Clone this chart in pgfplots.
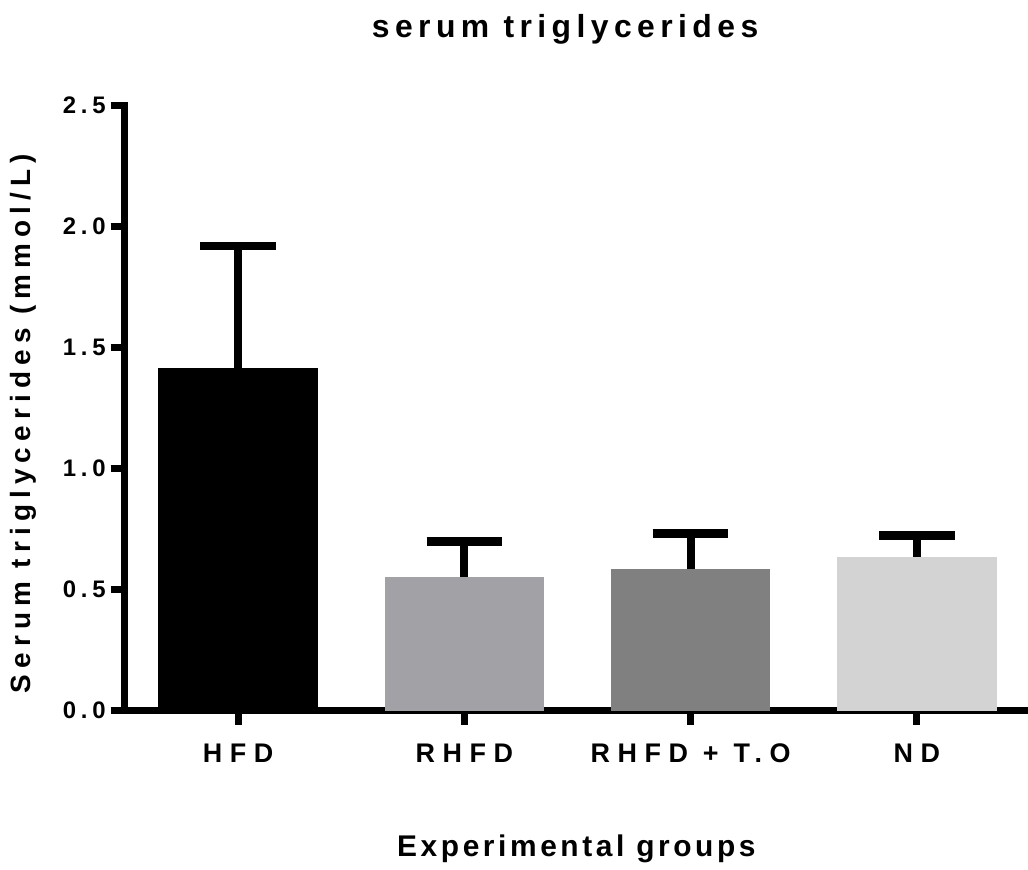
\documentclass[border=0pt]{standalone}
\usepackage{fontspec}
\setmainfont{Liberation Sans}
\newfontfamily\tickfont{Liberation Sans}[LetterSpace=20]
\newfontfamily\xtfont{Liberation Sans}[LetterSpace=28]
\newfontfamily\titlefont{Liberation Sans}[LetterSpace=17]
\newfontfamily\xlfont{Liberation Sans}[LetterSpace=12]
\newfontfamily\ylfont{Liberation Sans}[LetterSpace=22]
\usepackage{pgfplots}
\pgfplotsset{compat=1.18}
\definecolor{cRHFD}{RGB}{161,161,166}
\definecolor{cTO}{RGB}{128,128,128}
\definecolor{cND}{RGB}{211,211,211}
\begin{document}
\begin{tikzpicture}
\begin{axis}[
  name=ax,
  scale only axis,
  width=451.5pt, height=303.5pt,
  xmin=-0.502, xmax=3.476,
  ymin=0, ymax=2.5,
  axis x line=bottom, axis y line=left,
  axis line style={-, line width=3.5pt, line cap=rect},
  xtick={0,1,2,3},
  xticklabels={HFD, RHFD, RHFD + T.O, ND},
  ytick={0,0.5,1,1.5,2,2.5},
  tick align=outside,
  major tick length=7pt,
  tick style={line width=3.5pt, black},
  yticklabel style={font=\tickfont\bfseries\fontsize{12}{14}\selectfont, xshift=1pt},
  xticklabel style={font=\xtfont\bfseries\fontsize{13.5}{16}\selectfont, yshift=-6pt},
  /pgf/number format/.cd, fixed, fixed zerofill, precision=1, assume math mode=true,
  /pgfplots/.cd,
  clip=false,
  ybar, bar width=80pt, bar shift=0pt,
  every axis plot/.append style={draw=none},
  error bars/y dir=plus,
  error bars/y explicit,
  error bars/error mark=|,
  error bars/error bar style={line width=4pt, black, draw=black},
  error bars/error mark options={line width=4.5pt, mark size=19pt, black, draw=black},
]
\addplot[fill=black] coordinates {(0,1.415) +- (0,0.505)};
\addplot[fill=cRHFD] coordinates {(1,0.553) +- (0,0.144)};
\addplot[fill=cTO] coordinates {(2,0.586) +- (0,0.146)};
\addplot[fill=cND] coordinates {(3,0.635) +- (0,0.088)};
\node[anchor=base, font=\titlefont\bfseries\fontsize{16}{19}\selectfont] at (rel axis cs:0.4895,1.112) {serum triglycerides};
\node[anchor=base, font=\xlfont\bfseries\fontsize{15}{18}\selectfont] at (rel axis cs:0.502,-0.242) {Experimental groups};
\node[rotate=90, anchor=center, font=\ylfont\bfseries\fontsize{14}{17}\selectfont] at (rel axis cs:-0.113,0.4745) {Serum triglycerides (mmol/L)};
\end{axis}
\path[use as bounding box] (-62.5pt,-77pt) rectangle (451.5pt,356.5pt);
\end{tikzpicture}
\end{document}
